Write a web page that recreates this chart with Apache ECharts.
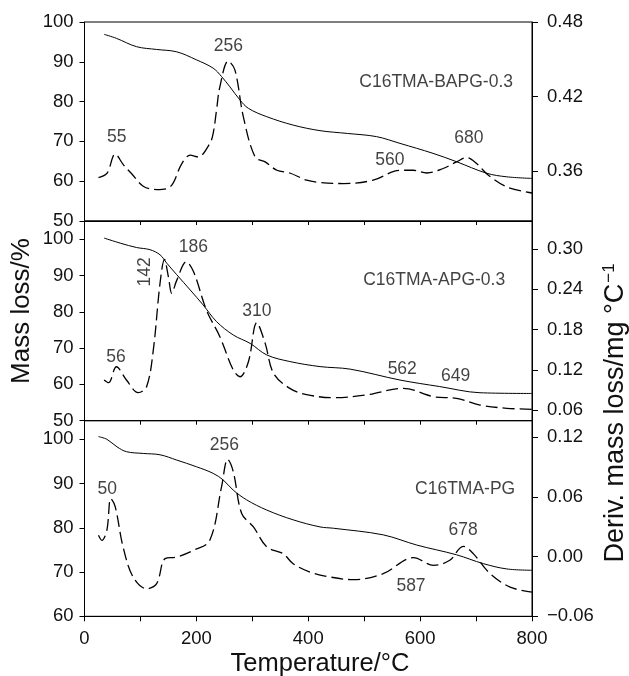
<!DOCTYPE html>
<html><head><meta charset="utf-8">
<script src="https://cdn.jsdelivr.net/npm/echarts@6/dist/echarts.min.js"></script>
<style>html,body{margin:0;padding:0;background:#fff}#c{width:629px;height:676px}</style>
</head><body><div id="c"></div>
<script>
// ---- data ----
// Top panel: C16TMA-BAPG-0.3
const bapgMassT = [35,57,93,129,165,200,230,245,260,278,293,326,373,421,470,522,564,623,665,719,755,800];
const bapgMass  = [96.9,95.9,93.8,93.1,92.5,90.5,88.4,86.3,83.7,80.4,78.3,76.2,74.1,72.7,72.0,71.2,69.5,67.0,64.9,62.0,61.1,60.7];
const bapgDerivT = [25,40,55,70,84,105,129,153,174,189,203,224,230,236,242,257,269,284,305,323,344,367,397,421,463,516,564,588,612,641,665,683,701,722,755,800];
const bapgDeriv  = [0.3549,0.3582,0.3737,0.3649,0.3582,0.348,0.3453,0.3474,0.3662,0.3729,0.3715,0.3823,0.3904,0.4091,0.4279,0.4486,0.4413,0.4037,0.3715,0.3675,0.3608,0.3586,0.3528,0.3510,0.3501,0.3528,0.3608,0.3608,0.3586,0.3622,0.3675,0.3710,0.3662,0.3568,0.3474,0.3425];
// Middle panel: C16TMA-APG-0.3
const apgMassT = [35,64,93,117,135,147,165,189,212,236,266,296,326,367,421,475,564,635,707,800];
const apgMass  = [100.3,98.9,97.7,97.1,95.7,93.4,90.2,86.0,81.9,77.3,73.6,71.3,68.1,66.3,64.9,64.2,61.2,59.4,57.7,57.5];
const apgDerivT = [35,43,57,75,96,111,123,135,143,150,156,165,182,195,218,242,266,278,293,308,323,338,367,397,445,504,570,624,665,707,755,800];
const apgDeriv  = [0.1047,0.1007,0.1245,0.1047,0.0858,0.0947,0.1494,0.2489,0.2846,0.2587,0.2340,0.2538,0.2811,0.2662,0.2091,0.1694,0.1196,0.1096,0.1320,0.1901,0.1594,0.1147,0.0923,0.0830,0.0783,0.0824,0.0923,0.0798,0.0774,0.0674,0.0625,0.0610];
// Bottom panel: C16TMA-PG
const pgMassT = [25,40,58,75,105,135,165,200,230,248,266,290,326,373,421,445,534,594,665,713,755,800];
const pgMass  = [100.6,100.0,98.3,97.2,96.8,96.5,95.3,93.8,92.3,90.8,88.5,86.3,84.0,81.8,80.2,79.9,78.4,76.1,73.9,71.9,70.7,70.4];
const pgDerivT = [25,31,40,47,55,69,87,111,129,144,165,195,224,245,256,266,281,302,326,355,373,403,433,481,534,588,624,653,677,695,725,761,800];
const pgDeriv  = [0.0215,0.0164,0.0265,0.0585,0.0500,0.0097,-0.0206,-0.0323,-0.0272,-0.0020,-0.0004,0.0064,0.0164,0.0702,0.0978,0.0853,0.0434,0.0299,0.0097,0.0030,-0.0071,-0.0155,-0.0199,-0.0232,-0.0171,-0.0010,-0.0088,-0.0037,0.0104,0.0030,-0.0171,-0.0307,-0.0357];

// tick labels
const xTicks = [0,200,400,600,800];
const massTicksTop = [50,60,70,80,90,100];
const massTicksMid = [50,60,70,80,90,100];
const massTicksBot = [60,70,80,90,100];
const derivTicksTop = [0.36,0.42,0.48];
const derivTicksMid = [0.06,0.12,0.18,0.24,0.30];
const derivTicksBot = [-0.06,0.00,0.06,0.12];

// annotations (text, temperature, derivative-axis value)
const bapgNotes = [['55',57.5,0.3877],['256',257,0.4609],['560',546,0.3689],['680',687,0.3869]];
const apgNotes  = [['56',56.3,0.1395],['186',194.5,0.3025],['310',308,0.2076],['562',568,0.1207],['649',663.5,0.1111]];
const apgRotNotes = [['142',108,0.2662]];
const pgNotes   = [['50',40.8,0.0679],['256',250,0.1122],['678',677,0.0265],['587',583.7,-0.0297]];
const sampleNames = [['C16TMA-BAPG-0.3',766,0.4319,0],['C16TMA-APG-0.3',752,0.2538,1],['C16TMA-PG',770,0.0679,2]];

// ---- chart ----
const FONT = 'Liberation Sans, Arial, Helvetica, sans-serif';
const TXT = '#111';
const zip = (a,b) => a.map((v,i)=>[v,b[i]]);
const L = 84.5, R = 97;
const grids = [
  {left:L, right:R, top:22, height:199},
  {left:L, right:R, top:221, height:199.7},
  {left:L, right:R, top:420.7, height:195.6}
].map(g=>Object.assign(g,{show:true,borderColor:'#000',borderWidth:1,backgroundColor:'transparent'}));

function xAx(i){
  return {type:'value', gridIndex:i, min:0, max:800, interval:100,
    axisLine:{show:true,onZero:false,lineStyle:{color:'#000',width:1}},
    axisTick:{show:true,inside:false,length:i===2?5:4,lineStyle:{color:'#000'}},
    splitLine:{show:false},
    axisLabel:{show:i===2, margin:13, fontSize:18.5, color:TXT, fontFamily:FONT,
      formatter:v=> xTicks.indexOf(v)>=0 ? String(v) : ''}};
}
function yLeft(i,min,max,ticks){
  return {type:'value', gridIndex:i, position:'left', min:min, max:max,
    axisLine:{show:true,onZero:false,lineStyle:{color:'#000'}},
    axisTick:{show:true,length:5,customValues:ticks,lineStyle:{color:'#000'}},
    splitLine:{show:false},
    axisLabel:{customValues:ticks, margin:11, fontSize:18.5, color:TXT, fontFamily:FONT, formatter:v=>String(Math.round(v))}};
}
function yRight(i,min,max,ticks){
  return {type:'value', gridIndex:i, position:'right', min:min, max:max,
    axisLine:{show:true,onZero:false,lineStyle:{color:'#000'}},
    axisTick:{show:true,length:6,customValues:ticks,lineStyle:{color:'#000'}},
    splitLine:{show:false},
    axisLabel:{customValues:ticks, margin:15, fontSize:18.5, color:TXT, fontFamily:FONT,
      formatter:v=>{const s=Math.abs(v).toFixed(2); return v< -1e-9 ? '\u22120'+s.slice(1) : s;}}};
}
function massSeries(i,T,V){
  return {type:'line', xAxisIndex:i, yAxisIndex:2*i, data:zip(T,V), smooth:0.35, symbol:'none',
    lineStyle:{color:'#000',width:1}, z:3, silent:true};
}
function derivSeries(i,T,V){
  return {type:'line', xAxisIndex:i, yAxisIndex:2*i+1, data:zip(T,V), smooth:0.35, symbol:'none',
    lineStyle:{color:'#000',width:1.3,type:[12,5]}, z:3, silent:true};
}
function noteSeries(i,notes,extra){
  return {type:'scatter', xAxisIndex:i, yAxisIndex:2*i+1, symbolSize:0, silent:true,
    data:notes.map(n=>({name:n[0],value:[n[1],n[2]]})),
    label:Object.assign({show:true,position:'inside',formatter:'{b}',fontSize:17.5,color:TXT,fontFamily:FONT},extra||{})};
}

const option = {
  animation:false,
  backgroundColor:'#fff',
  grid:grids,
  xAxis:[xAx(0),xAx(1),xAx(2)],
  yAxis:[
    yLeft(0,50,100,massTicksTop), yRight(0,0.32,0.48,derivTicksTop),
    yLeft(1,50,105,massTicksMid), yRight(1,0.044,0.342,derivTicksMid),
    yLeft(2,60,104.2,massTicksBot), yRight(2,-0.06,0.1367,derivTicksBot)
  ],
  series:[
    massSeries(0,bapgMassT,bapgMass), derivSeries(0,bapgDerivT,bapgDeriv),
    massSeries(1,apgMassT,apgMass), derivSeries(1,apgDerivT,apgDeriv),
    massSeries(2,pgMassT,pgMass), derivSeries(2,pgDerivT,pgDeriv),
    noteSeries(0,bapgNotes), noteSeries(1,apgNotes), noteSeries(2,pgNotes),
    noteSeries(1,apgRotNotes,{rotate:90}),
  ].concat(sampleNames.map(s=>noteSeries(s[3],[[s[0],s[1],s[2]]],{position:'left',distance:0,align:'right',fontSize:17.5}))),
  graphic:[
    {type:'text', x:320, y:664, style:{text:'Temperature/°C', font:'25.5px '+FONT, fill:TXT, textAlign:'center', textVerticalAlign:'middle'}},
    {type:'text', x:22, y:311, rotation:Math.PI/2, style:{text:'Mass loss/%', font:'26px '+FONT, fill:TXT, textAlign:'center', textVerticalAlign:'middle'}},
    {type:'text', x:615, y:413, rotation:Math.PI/2, style:{
      text:'{a|Deriv. mass loss/mg °C}{s|\u22121}',
      textAlign:'center', textVerticalAlign:'middle',
      rich:{a:{fontSize:27, fontFamily:FONT, fill:TXT, color:TXT, verticalAlign:'bottom'},
            s:{fontSize:17, fontFamily:FONT, fill:TXT, color:TXT, verticalAlign:'top', padding:[0,0,12,1]}}}}
  ]
};
const chart = echarts.init(document.getElementById('c'), null, {renderer:'canvas'});
chart.setOption(option);
</script></body></html>
